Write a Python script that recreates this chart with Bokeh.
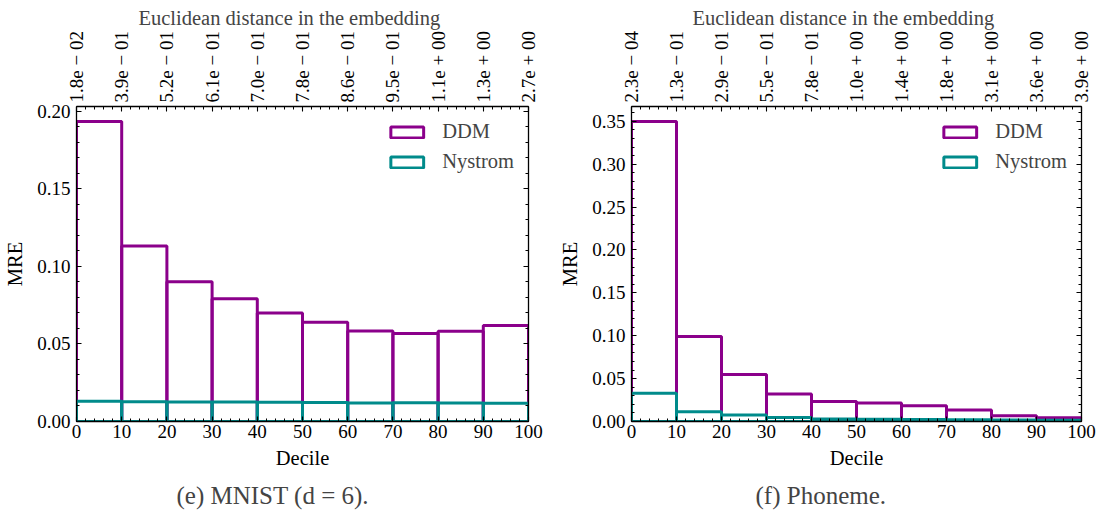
import math
from bokeh.plotting import figure
from bokeh.models import (LinearAxis, FixedTicker, Range1d, Title,
                          CustomJSTickFormatter, NumeralTickFormatter)
from bokeh.layouts import row
from bokeh.embed import file_html
from bokeh.resources import INLINE

# ---------------- data ----------------
edges = [0, 10, 20, 30, 40, 50, 60, 70, 80, 90, 100]

mnist_ddm = [0.1934, 0.1132, 0.0901, 0.0791, 0.0700, 0.0640, 0.0584, 0.0567, 0.0582, 0.0619]
mnist_nys = [0.0130, 0.0128, 0.0126, 0.0125, 0.0124, 0.0122, 0.0120, 0.0121, 0.0120, 0.0118]
mnist_dist = ["1.8e − 02", "3.9e − 01", "5.2e − 01", "6.1e − 01", "7.0e − 01", "7.8e − 01",
              "8.6e − 01", "9.5e − 01", "1.1e + 00", "1.3e + 00", "2.7e + 00"]

phon_ddm = [0.3498, 0.0992, 0.0547, 0.0321, 0.0234, 0.0215, 0.0184, 0.0133, 0.0067, 0.0043]
phon_nys = [0.0328, 0.0114, 0.0075, 0.0047, 0.0030, 0.0025, 0.0022, 0.0020, 0.0017, 0.0015]
phon_dist = ["2.3e − 04", "1.3e − 01", "2.9e − 01", "5.5e − 01", "7.8e − 01", "1.0e + 00",
             "1.4e + 00", "1.8e + 00", "3.1e + 00", "3.6e + 00", "3.9e + 00"]

mnist_yticks = [0.0, 0.05, 0.10, 0.15, 0.20]
phon_yticks = [0.0, 0.05, 0.10, 0.15, 0.20, 0.25, 0.30, 0.35]

series_names = ["DDM", "Nystrom"]
colors = ["#8b008b", "#008b8b"]
captions = ["(e) MNIST (d = 6).", "(f) Phoneme."]
top_title = "Euclidean distance in the embedding"

FONT = "Liberation Serif"
FS = "19px"


def style_axis(ax):
    ax.axis_line_width = 1.3
    ax.axis_line_color = "black"
    ax.major_tick_in = 5
    ax.major_tick_out = 0
    ax.minor_tick_in = 3
    ax.minor_tick_out = 0
    ax.major_tick_line_width = 1.1
    ax.minor_tick_line_width = 1.0
    ax.major_label_text_font = FONT
    ax.major_label_text_font_size = FS
    ax.major_label_text_color = "black"
    ax.axis_label_text_font = FONT
    ax.axis_label_text_font_size = "20.5px"
    ax.axis_label_text_font_style = "normal"
    ax.axis_label_text_color = "black"


def make(ddm, nys, dist, yticks, caption, width, bl, br, cap_off, title_off):
    ymax = max(ddm) * 1.05
    p = figure(width=width, height=517, output_backend="svg", toolbar_location=None,
               x_range=Range1d(0, 100), y_range=Range1d(0, ymax),
               min_border_left=bl, min_border_right=br,
               min_border_top=106, min_border_bottom=96)
    p.grid.visible = False
    p.outline_line_color = None
    p.background_fill_color = "white"
    p.border_fill_color = "white"

    p.title.text = top_title
    p.title.align = "left"
    p.title.offset = title_off
    p.title.text_font = FONT
    p.title.text_font_size = "20.5px"
    p.title.text_font_style = "normal"
    p.title.standoff = 0

    xminor = [v for v in range(0, 101, 2)]
    ystep = 0.01
    yminor = [round(i * ystep, 4) for i in range(int(ymax / ystep) + 1)]

    xa = p.xaxis[0]
    xa.ticker = FixedTicker(ticks=edges, minor_ticks=xminor)
    xa.axis_label = "Decile"
    style_axis(xa)
    xa.major_label_standoff = 3
    xa.axis_label_standoff = 6

    ya = p.yaxis[0]
    ya.ticker = FixedTicker(ticks=yticks, minor_ticks=yminor)
    ya.formatter = NumeralTickFormatter(format="0.00")
    ya.axis_label = "MRE"
    style_axis(ya)
    ya.major_label_standoff = 6
    ya.axis_label_standoff = 8

    top = LinearAxis(ticker=FixedTicker(ticks=edges, minor_ticks=xminor),
                     major_label_overrides={e: d for e, d in zip(edges, dist)},
                     major_label_orientation=math.pi / 2)
    style_axis(top)
    top.major_label_text_font_size = "19px"
    top.major_label_standoff = 4
    p.add_layout(top, "above")

    right = LinearAxis(ticker=FixedTicker(ticks=yticks, minor_ticks=yminor),
                       formatter=CustomJSTickFormatter(code="return ''"))
    style_axis(right)
    p.add_layout(right, "right")

    left_edges = edges[:-1]
    right_edges = edges[1:]
    for vals, name, col in zip([ddm, nys], series_names, colors):
        p.quad(left=left_edges, right=right_edges, bottom=0, top=vals,
               fill_color=None, line_color=col, line_width=3, legend_label=name)

    lg = p.legend[0]
    lg.location = "top_right"
    lg.border_line_alpha = 0
    lg.background_fill_alpha = 0
    lg.label_text_font = FONT
    lg.label_text_font_size = "20.5px"
    lg.glyph_width = 41
    lg.glyph_height = 14
    lg.label_standoff = 15
    lg.spacing = 7
    lg.padding = 6
    lg.margin = 8

    cap = Title(text=caption, align="left", offset=cap_off, standoff=17,
                text_font=FONT, text_font_size="25px", text_font_style="normal")
    p.add_layout(cap, "below")
    return p


p1 = make(mnist_ddm, mnist_nys, mnist_dist, mnist_yticks, captions[0],
          550, 76, 22, 100, 62)
p2 = make(phon_ddm, phon_nys, phon_dist, phon_yticks, captions[1],
          549, 81, 18, 124, 61)

layout = row(p1, p2)
open("out.html", "w").write(file_html(layout, INLINE))
